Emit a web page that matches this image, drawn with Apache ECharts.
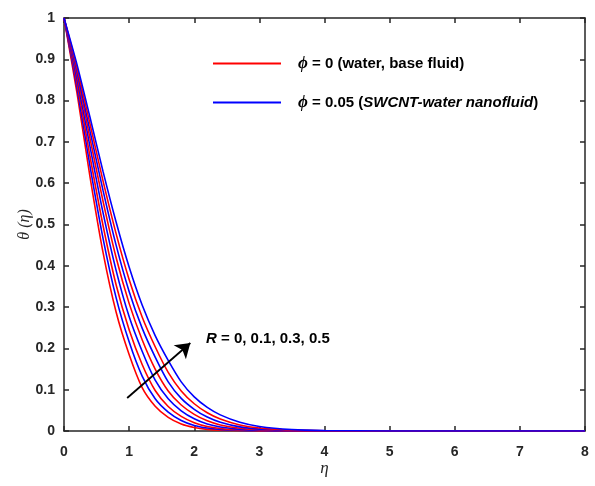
<!DOCTYPE html>
<html>
<head>
<meta charset="utf-8">
<script src="https://cdn.jsdelivr.net/npm/echarts@6/dist/echarts.min.js"></script>
<style>
  html, body { margin: 0; padding: 0; background: #fff; }
  #chart { width: 595px; height: 486px; }
</style>
</head>
<body>
<div id="chart"></div>
<script>
// Similarity variable eta (sample points of the temperature profiles)
var eta = [0, 0.2, 0.4, 0.6, 0.8, 1.0, 1.2, 1.4, 1.6, 1.8, 2.0, 2.2, 2.4, 2.7, 3.0, 3.5, 4.0, 5.0, 6.0, 8.0];

// theta(eta) for the base fluid (phi = 0), R = 0, 0.1, 0.3, 0.5
var waterR0   = [1, 0.818, 0.615, 0.432, 0.288, 0.185, 0.105, 0.060, 0.033, 0.017, 0.0085, 0.004, 0.002, 0.0008, 0.0002, 0, 0, 0, 0, 0];
var waterR01  = [1, 0.842, 0.664, 0.497, 0.354, 0.245, 0.161, 0.098, 0.0594, 0.0355, 0.0202, 0.011, 0.0061, 0.0023, 0.0009, 0.0002, 0, 0, 0, 0];
var waterR03  = [1, 0.863, 0.708, 0.556, 0.420, 0.309, 0.221, 0.150, 0.097, 0.063, 0.0404, 0.0247, 0.0147, 0.0068, 0.0029, 0.0008, 0.0002, 0, 0, 0];
var waterR05  = [1, 0.879, 0.743, 0.605, 0.478, 0.367, 0.276, 0.204, 0.142, 0.097, 0.066, 0.0442, 0.029, 0.0146, 0.0073, 0.002, 0.0007, 0.0001, 0, 0];

// theta(eta) for the SWCNT-water nanofluid (phi = 0.05), R = 0, 0.1, 0.3, 0.5
var nanoR0    = [1, 0.831, 0.641, 0.466, 0.323, 0.216, 0.133, 0.078, 0.0458, 0.0256, 0.0135, 0.0072, 0.0036, 0.0014, 0.0006, 0.0001, 0, 0, 0, 0];
var nanoR01   = [1, 0.853, 0.688, 0.528, 0.389, 0.277, 0.193, 0.123, 0.078, 0.0488, 0.0295, 0.0168, 0.0097, 0.0039, 0.0017, 0.0005, 0.0001, 0, 0, 0];
var nanoR03   = [1, 0.871, 0.726, 0.582, 0.450, 0.338, 0.249, 0.179, 0.119, 0.079, 0.0526, 0.0337, 0.0213, 0.010, 0.0046, 0.0016, 0.0004, 0, 0, 0];
var nanoR05   = [1, 0.887, 0.759, 0.628, 0.506, 0.397, 0.305, 0.231, 0.171, 0.119, 0.0825, 0.057, 0.039, 0.021, 0.0108, 0.0034, 0.0011, 0.0001, 0, 0];

var xTicks = [0, 1, 2, 3, 4, 5, 6, 7, 8];
var yTicks = [0, 0.1, 0.2, 0.3, 0.4, 0.5, 0.6, 0.7, 0.8, 0.9, 1];

var nameWater = 'water';
var nameNano = 'nano';

var profiles = [
  { name: nameWater, color: '#ff0000', values: waterR0 },
  { name: nameNano,  color: '#0000ff', values: nanoR0 },
  { name: nameWater, color: '#ff0000', values: waterR01 },
  { name: nameNano,  color: '#0000ff', values: nanoR01 },
  { name: nameWater, color: '#ff0000', values: waterR03 },
  { name: nameNano,  color: '#0000ff', values: nanoR03 },
  { name: nameWater, color: '#ff0000', values: waterR05 },
  { name: nameNano,  color: '#0000ff', values: nanoR05 }
];

var axisColor = '#262626';
var font = '"Liberation Sans", Arial, sans-serif';
var serif = '"Liberation Serif", "DejaVu Serif", serif';

function pairs(vals) {
  return eta.map(function (e, i) { return [e, vals[i]]; });
}

var series = profiles.map(function (p) {
  return {
    type: 'line',
    name: p.name,
    data: pairs(p.values),
    smooth: 0.25,
    symbol: 'none',
    clip: true,
    lineStyle: { color: p.color, width: 1.6 },
    itemStyle: { color: p.color },
    z: 3
  };
});

// Arrow indicating increasing R, plus its label
series.push({
  type: 'line',
  data: [],
  silent: true,
  markLine: {
    silent: true,
    symbol: ['none', 'arrow'],
    symbolSize: 14,
    lineStyle: { color: '#000', width: 1.8, type: 'solid' },
    label: { show: false },
    data: [[{ coord: [0.97, 0.08] }, { coord: [1.94, 0.213] }]]
  },
  markPoint: {
    silent: true,
    symbol: 'circle',
    symbolSize: 0,
    label: {
      show: true,
      position: 'right',
      distance: 0,
      formatter: '{i|R} = 0, 0.1, 0.3, 0.5',
      color: '#000',
      fontFamily: font,
      fontWeight: 'bold',
      fontSize: 15,
      rich: { i: { fontStyle: 'italic', fontWeight: 'bold', fontFamily: font, fontSize: 15, color: '#000' } }
    },
    data: [{ coord: [2.18, 0.222] }]
  }
});

var chart = echarts.init(document.getElementById('chart'), null, { renderer: 'canvas' });

var axisLine = { show: true, onZero: false, lineStyle: { color: axisColor, width: 1.5 } };
var tickStyle = { show: true, inside: true, length: 5, lineStyle: { color: axisColor, width: 1.5 } };

chart.setOption({
  animation: false,
  backgroundColor: '#ffffff',
  grid: { left: 64, right: 10, top: 18, bottom: 55 },
  legend: {
    orient: 'vertical',
    left: 208,
    top: 50,
    itemGap: 22,
    itemWidth: 68,
    itemHeight: 2,
    icon: 'rect',
    data: [nameWater, nameNano],
    formatter: function (n) {
      return n === nameWater
        ? '{g|ϕ} = 0 (water, base fluid)'
        : '{g|ϕ} = 0.05 ({i|SWCNT-water nanofluid})';
    },
    textStyle: {
      color: '#000',
      fontFamily: font,
      fontWeight: 'bold',
      fontSize: 15,
      padding: [0, 0, 0, 12],
      rich: {
        g: { fontFamily: serif, fontStyle: 'italic', fontWeight: 'bold', fontSize: 17, color: '#000' },
        i: { fontFamily: font, fontStyle: 'italic', fontWeight: 'bold', fontSize: 15, color: '#000' }
      }
    }
  },
  xAxis: [{
    type: 'value',
    min: 0, max: 8, interval: 1,
    position: 'bottom',
    name: 'η',
    nameLocation: 'middle',
    nameGap: 29,
    nameMoveOverlap: false,
    nameTextStyle: { fontFamily: serif, fontStyle: 'italic', fontSize: 17, color: axisColor },
    axisLine: axisLine,
    axisTick: tickStyle,
    splitLine: { show: false },
    axisLabel: {
      margin: 14,
      color: axisColor, fontFamily: font, fontWeight: 'bold', fontSize: 14,
      formatter: function (v) { return xTicks.indexOf(v) >= 0 ? String(v) : ''; }
    }
  }, {
    type: 'value',
    min: 0, max: 8, interval: 1,
    position: 'top',
    axisLine: axisLine,
    axisTick: tickStyle,
    axisLabel: { show: false },
    splitLine: { show: false }
  }],
  yAxis: [{
    type: 'value',
    min: 0, max: 1, interval: 0.1,
    position: 'left',
    name: 'θ (η)',
    nameLocation: 'middle',
    nameGap: 31,
    nameMoveOverlap: false,
    nameRotate: 90,
    nameTextStyle: { fontFamily: serif, fontStyle: 'italic', fontSize: 16, color: axisColor },
    axisLine: axisLine,
    axisTick: tickStyle,
    splitLine: { show: false },
    axisLabel: {
      margin: 9,
      color: axisColor, fontFamily: font, fontWeight: 'bold', fontSize: 14,
      formatter: function (v) {
        var r = Math.round(v * 10) / 10;
        return yTicks.indexOf(r) >= 0 ? String(r) : '';
      }
    }
  }, {
    type: 'value',
    min: 0, max: 1, interval: 0.1,
    position: 'right',
    axisLine: axisLine,
    axisTick: tickStyle,
    axisLabel: { show: false },
    splitLine: { show: false }
  }],
  series: series
});
</script>
</body>
</html>
